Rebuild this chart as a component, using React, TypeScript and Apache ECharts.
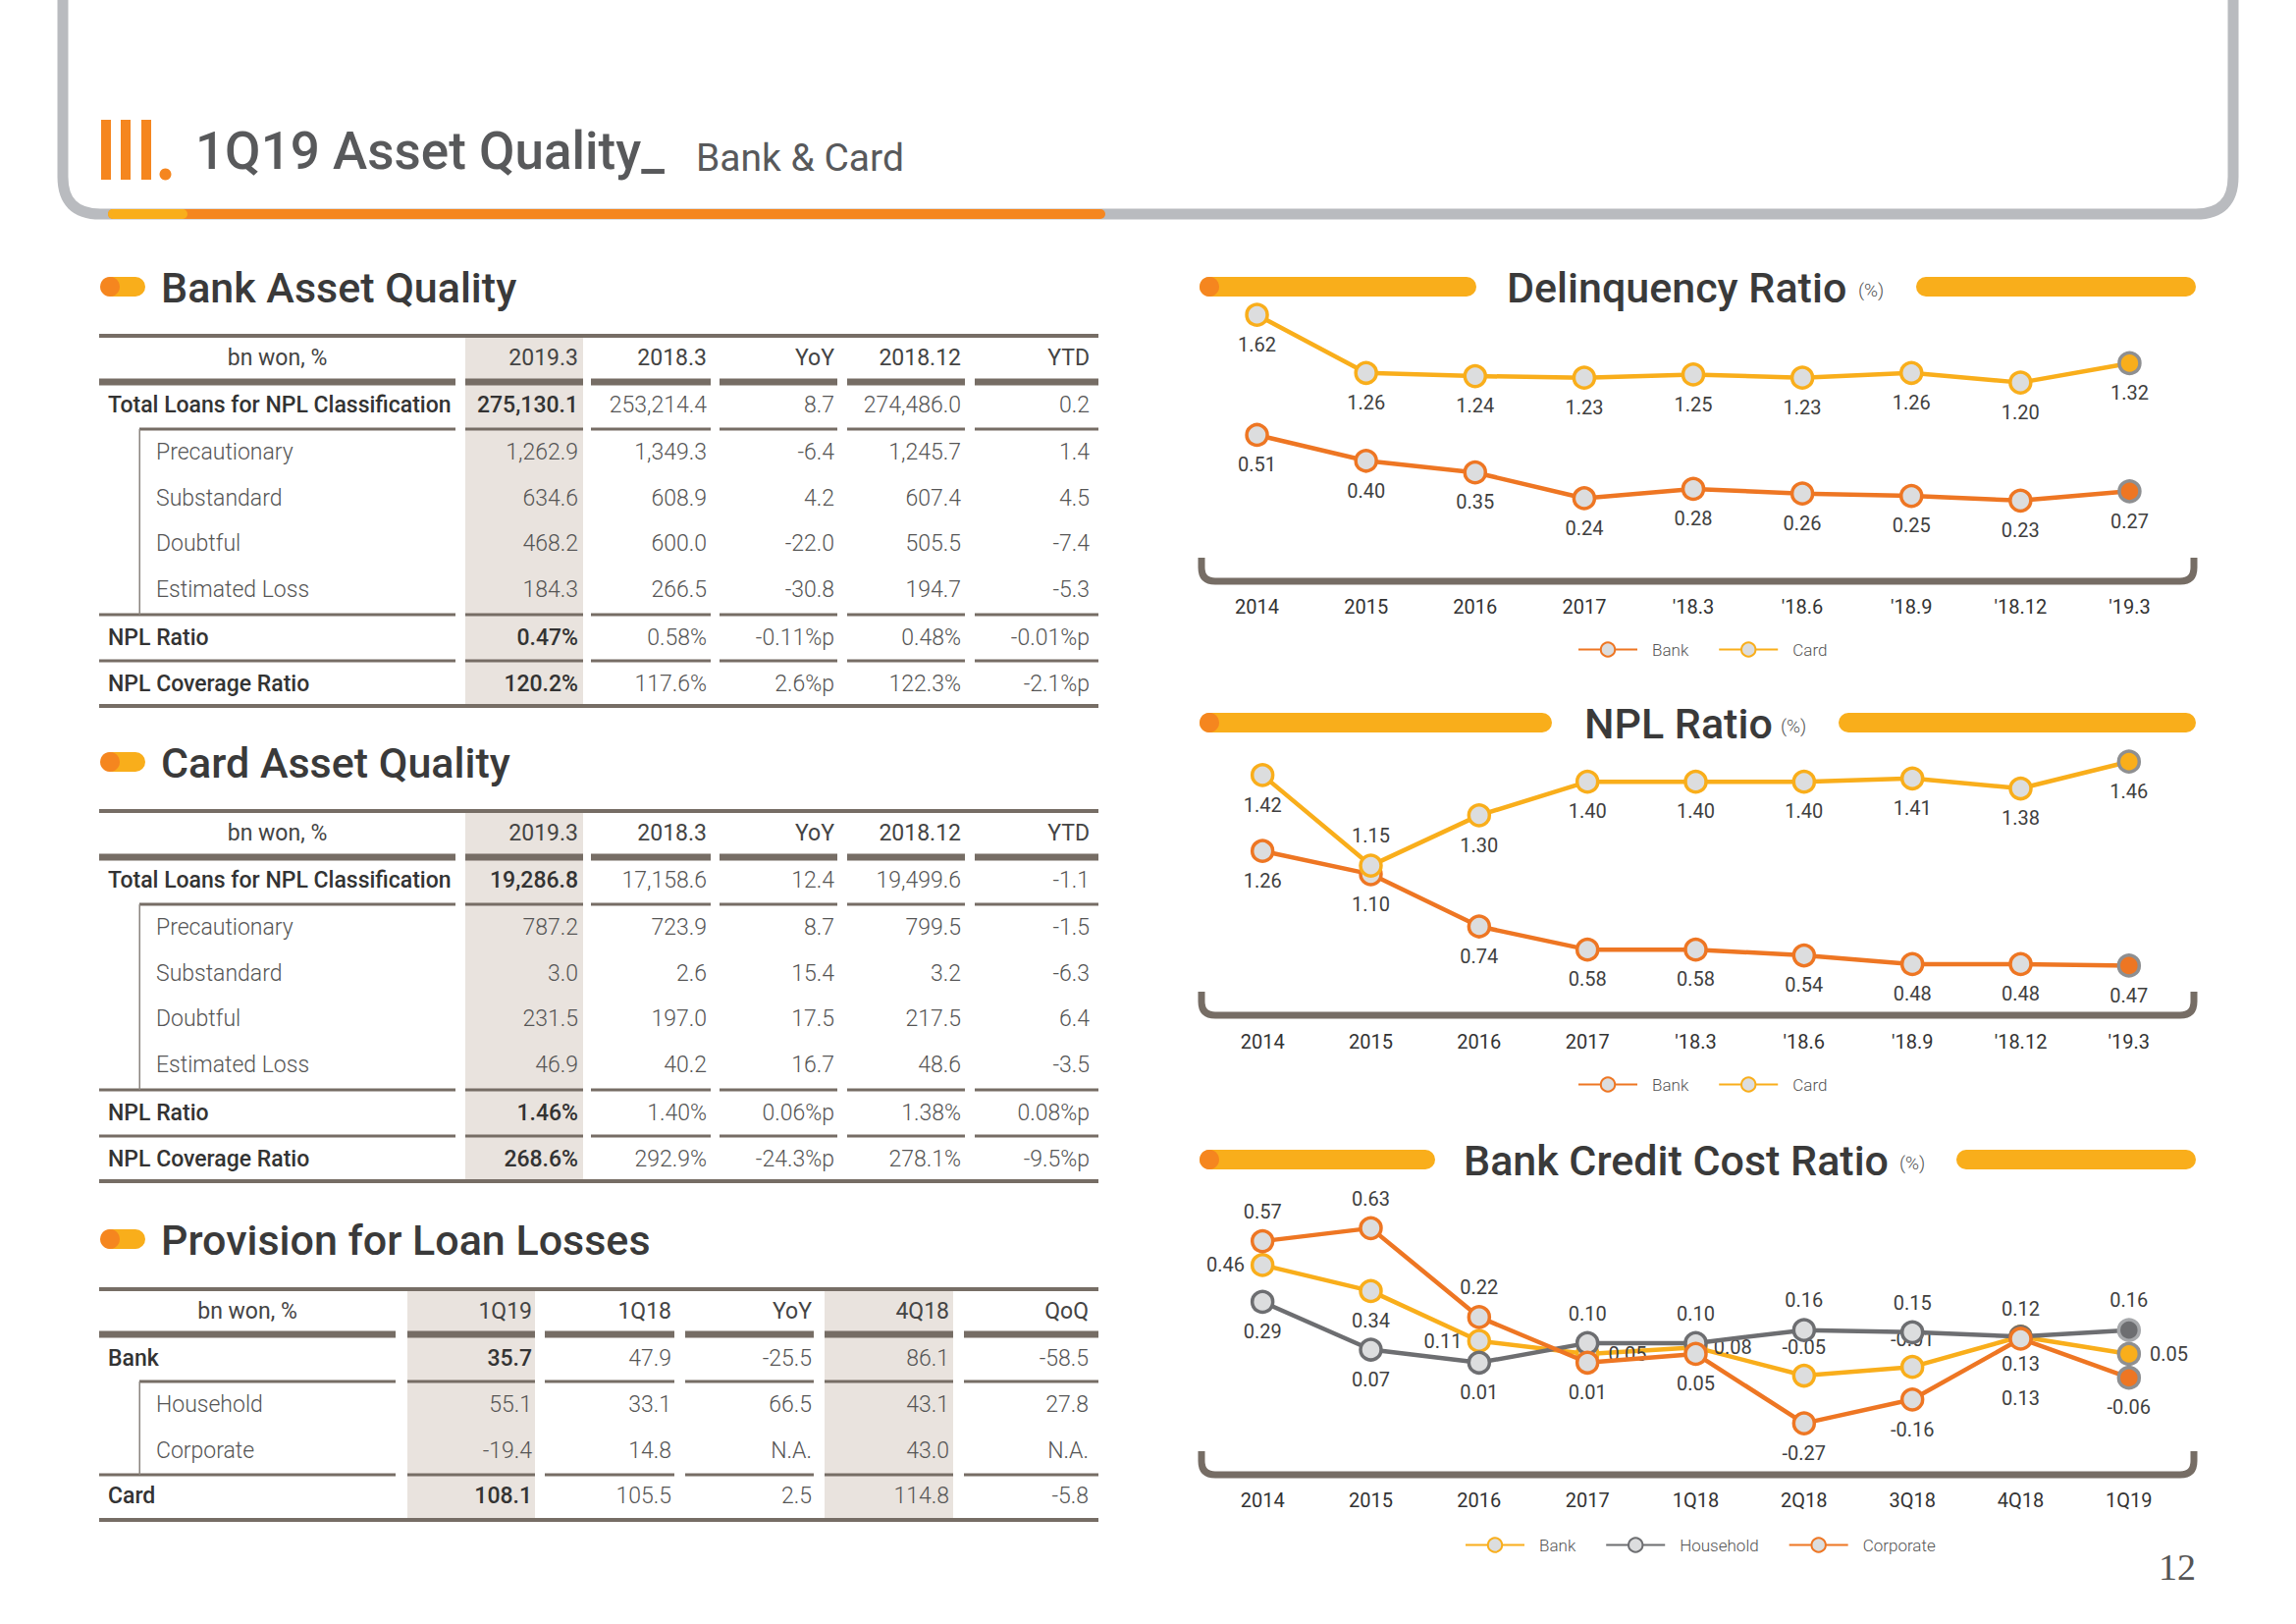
import React, { useEffect, useRef } from "react";
import * as echarts from "echarts";

// ---------------- data ----------------
const assetHeaderBank = ["2019.3", "2018.3", "YoY", "2018.12", "YTD"];
const assetHeaderCard = ["2019.3", "2018.3", "YoY", "2018.12", "YTD"];
const assetRowLabels = [
  "Total Loans for NPL Classification",
  "Precautionary",
  "Substandard",
  "Doubtful",
  "Estimated Loss",
  "NPL Ratio",
  "NPL Coverage Ratio",
];

const bankTotalLoans = ["275,130.1", "253,214.4", "8.7", "274,486.0", "0.2"];
const bankPrecautionary = ["1,262.9", "1,349.3", "-6.4", "1,245.7", "1.4"];
const bankSubstandard = ["634.6", "608.9", "4.2", "607.4", "4.5"];
const bankDoubtful = ["468.2", "600.0", "-22.0", "505.5", "-7.4"];
const bankEstimatedLoss = ["184.3", "266.5", "-30.8", "194.7", "-5.3"];
const bankNplRatio = ["0.47%", "0.58%", "-0.11%p", "0.48%", "-0.01%p"];
const bankNplCoverage = ["120.2%", "117.6%", "2.6%p", "122.3%", "-2.1%p"];

const cardTotalLoans = ["19,286.8", "17,158.6", "12.4", "19,499.6", "-1.1"];
const cardPrecautionary = ["787.2", "723.9", "8.7", "799.5", "-1.5"];
const cardSubstandard = ["3.0", "2.6", "15.4", "3.2", "-6.3"];
const cardDoubtful = ["231.5", "197.0", "17.5", "217.5", "6.4"];
const cardEstimatedLoss = ["46.9", "40.2", "16.7", "48.6", "-3.5"];
const cardNplRatio = ["1.46%", "1.40%", "0.06%p", "1.38%", "0.08%p"];
const cardNplCoverage = ["268.6%", "292.9%", "-24.3%p", "278.1%", "-9.5%p"];

const provisionHeader = ["1Q19", "1Q18", "YoY", "4Q18", "QoQ"];
const provisionRowLabels = ["Bank", "Household", "Corporate", "Card"];
const provisionBank = ["35.7", "47.9", "-25.5", "86.1", "-58.5"];
const provisionHousehold = ["55.1", "33.1", "66.5", "43.1", "27.8"];
const provisionCorporate = ["-19.4", "14.8", "N.A.", "43.0", "N.A."];
const provisionCard = ["108.1", "105.5", "2.5", "114.8", "-5.8"];

const ratioCategories = ["2014", "2015", "2016", "2017", "'18.3", "'18.6", "'18.9", "'18.12", "'19.3"];
const delinquencyBank = [0.51, 0.4, 0.35, 0.24, 0.28, 0.26, 0.25, 0.23, 0.27];
const delinquencyCard = [1.62, 1.26, 1.24, 1.23, 1.25, 1.23, 1.26, 1.2, 1.32];
const nplBank = [1.26, 1.1, 0.74, 0.58, 0.58, 0.54, 0.48, 0.48, 0.47];
const nplCard = [1.42, 1.15, 1.3, 1.4, 1.4, 1.4, 1.41, 1.38, 1.46];

const costCategories = ["2014", "2015", "2016", "2017", "1Q18", "2Q18", "3Q18", "4Q18", "1Q19"];
const costBank = [0.46, 0.34, 0.11, 0.05, 0.08, -0.05, -0.01, 0.13, 0.05];
const costHousehold = [0.29, 0.07, 0.01, 0.1, 0.1, 0.16, 0.15, 0.13, 0.16];
const costCorporate = [0.57, 0.63, 0.22, 0.01, 0.05, -0.27, -0.16, 0.12, -0.06];

// label placement (style, not data)
const allBottom = ["bottom", "bottom", "bottom", "bottom", "bottom", "bottom", "bottom", "bottom", "bottom"];
const nplCardPos = ["bottom", "top", "bottom", "bottom", "bottom", "bottom", "bottom", "bottom", "bottom"];
const costBankPos = ["left", "bottom", "left", "right", "right", "top", "top", "bottom", "right"];
const costBankDist = [6, 8, 5, 9, 6, 7, 6, 5, 9];
const costHouseholdPos = ["bottom", "bottom", "bottom", "top", "top", "top", "top", "bottom", "top"];
const costHouseholdDist = [8, 8, 8, 8, 8, 8, 8, 40, 8];
const costCorporatePos = ["top", "top", "top", "bottom", "bottom", "bottom", "bottom", "top", "bottom"];

// ---------------- style ----------------
const FONT = "Roboto, 'Noto Sans', sans-serif";
const ORANGE = "#EE7623";
const BAR_ORANGE = "#F5861F";
const YELLOW = "#F9AE1B";
const GREY = "#6D6E71";
const RULE = "#766D65";
const SHADE = "#E9E3DE";
const MARK_FILL = "#DCDDDE";
const LAST_BORDER = "#8E8F91";

const frameD =
  "M 64 -10 L 64 180 Q 64 218 102 218 L 2237 218 Q 2275 218 2275 180 L 2275 -10";
const bracketD = "M 0 0 L 0 10 Q 0 24 14 24 L 997 24 Q 1011 24 1011 10 L 1011 0";
echarts.graphic.registerShape("frameLine", echarts.graphic.extendPath(frameD, {}));
echarts.graphic.registerShape("bracketLine", echarts.graphic.extendPath(bracketD, {}));

function txt(text: string, x: number, y: number, o: any = {}) {
  const align = o.align || "left";
  const va = o.va || "middle";
  return {
    type: "text",
    x,
    y,
    silent: true,
    z: 10,
    style: {
      text,
      fill: o.color || "#555",
      fontSize: o.size || 23,
      fontFamily: o.family || FONT,
      fontWeight: o.weight || 400,
      align,
      textAlign: align,
      verticalAlign: va,
      textVerticalAlign: va,
    },
  };
}

function rect(x: number, y: number, w: number, h: number, fill: string, r: number = 0, z = 5) {
  return { type: "rect", silent: true, z, shape: { x, y, width: w, height: h, r }, style: { fill } };
}

const ASSET_SEGS = [[101, 464], [474, 594], [602, 724], [733, 853], [863, 983], [993, 1119]];
const ASSET_RIGHT = [589, 720, 850, 979, 1110];
const PROV_SEGS = [[101, 403], [415, 545], [555, 687], [698, 829], [840, 971], [982, 1119]];
const PROV_RIGHT = [542, 684, 827, 967, 1109];

function buildTable(
  T: number,
  segs: number[][],
  right: number[],
  shaded: number[],
  header: string[],
  labels: string[],
  values: string[][],
  main: boolean[],
  rowDy: number[],
  headerDy: number,
  underDy: number,
  rules: { dy: number; indent: boolean }[],
  bottomDy: number
) {
  const els: any[] = [];
  const L = segs[0][0];
  const R = segs[segs.length - 1][1];
  shaded.forEach((j) => {
    const s = segs[j + 1];
    els.push(rect(s[0], T, s[1] - s[0], bottomDy, SHADE, 0, 2));
  });
  els.push(rect(L, T - 2, R - L, 4, RULE));
  els.push(txt("bn won, %", (segs[0][0] + segs[0][1]) / 2, T + headerDy, { align: "center", color: "#444" }));
  header.forEach((h, j) => els.push(txt(h, right[j], T + headerDy, { align: "right", color: "#444" })));
  segs.forEach((s) => els.push(rect(s[0], T + underDy - 3.5, s[1] - s[0], 7, RULE)));
  labels.forEach((lab, i) => {
    const y = T + rowDy[i];
    els.push(
      txt(lab, main[i] ? 110 : 159, y, {
        color: main[i] ? "#333" : "#555",
        weight: main[i] ? 500 : 300,
      })
    );
    values[i].forEach((v, j) => {
      const bold = main[i] && j === 0;
      els.push(
        txt(v, right[j], y, {
          align: "right",
          color: bold ? "#333" : "#555",
          weight: bold ? 500 : 300,
        })
      );
    });
  });
  rules.forEach((r) => {
    segs.forEach((s, k) => {
      const x0 = k === 0 && r.indent ? 142 : s[0];
      els.push(rect(x0, T + r.dy - 1.5, s[1] - x0, 3, RULE));
    });
  });
  const ind = rules.filter((r) => r.indent)[0];
  const nxt = rules.filter((r) => !r.indent)[0];
  els.push(rect(141.5, T + ind.dy, 1.5, nxt.dy - ind.dy, "#8A847E"));
  els.push(rect(L, T + bottomDy - 2, R - L, 4, RULE));
  return els;
}

function sectionHeader(text: string, y: number) {
  return [
    rect(104, y - 10, 44, 20, YELLOW, 10),
    { type: "circle", silent: true, z: 6, shape: { cx: 112, cy: y, r: 10 }, style: { fill: BAR_ORANGE } },
    txt(text, 164, y + 1, { size: 43, weight: 500, color: "#3A3A3A" }),
  ];
}

function chartTitle(
  title: string,
  y: number,
  leftEnd: number,
  titleX: number,
  pctX: number,
  rightStart: number,
  bracketY: number
) {
  return [
    rect(1222, y - 10, leftEnd - 1222, 20, YELLOW, 10),
    { type: "circle", silent: true, z: 6, shape: { cx: 1232, cy: y, r: 10 }, style: { fill: BAR_ORANGE } },
    rect(rightStart, y - 10, 2237 - rightStart, 20, YELLOW, 10),
    txt(title, titleX, y + 1, { size: 43, weight: 500, color: "#3A3A3A" }),
    txt("(%)", pctX, y + 3, { size: 19, color: "#555", weight: 300 }),
    {
      type: "bracketLine",
      x: 1224,
      y: bracketY,
      silent: true,
      z: 3,
      style: { fill: "none", stroke: RULE, lineWidth: 7 },
    },
  ];
}

function lineSeries(
  name: string,
  values: number[],
  color: string,
  idx: number,
  yIdx: number,
  pos: string[],
  dist: number[] | null,
  lastFill: string,
  lastBorder: string,
  z: number
) {
  return {
    type: "line",
    name,
    xAxisIndex: idx,
    yAxisIndex: yIdx,
    z,
    symbol: "circle",
    symbolSize: 21,
    lineStyle: { color, width: 4.5 },
    itemStyle: { color: MARK_FILL, borderColor: color, borderWidth: 3.5 },
    label: {
      show: true,
      fontSize: 20,
      color: "#3F3F3F",
      fontFamily: FONT,
      formatter: (p: any) => Number(p.value).toFixed(2),
    },
    emphasis: { disabled: true },
    data: values.map((v, i) => ({
      value: v,
      label: { position: pos[i], distance: dist ? dist[i] : 8 },
      itemStyle: i === values.length - 1 ? { color: lastFill, borderColor: lastBorder } : undefined,
    })),
  };
}

function legend(names: string[], left: number, top: number) {
  return {
    data: names,
    left,
    top,
    orient: "horizontal",
    itemWidth: 60,
    itemHeight: 18,
    itemGap: 30,
    selectedMode: false,
    formatter: (n: string) => n.split("|")[0],
    textStyle: { fontSize: 17, color: "#555", fontFamily: FONT, fontWeight: 300, padding: [0, 0, 0, 10] },
  };
}

export default function App() {
  const ref = useRef<HTMLDivElement>(null);
  useEffect(() => {
    if (!ref.current) return;
    const chart = echarts.init(ref.current, null, { renderer: "svg" });

    const assetMain = [true, false, false, false, false, true, true];
    const assetRowDy = [70, 118, 165, 211, 258, 307, 354];
    const assetRules = [
      { dy: 95, indent: true },
      { dy: 284, indent: false },
      { dy: 331, indent: false },
    ];
    const bankTable = buildTable(
      342, ASSET_SEGS, ASSET_RIGHT, [0], assetHeaderBank, assetRowLabels,
      [bankTotalLoans, bankPrecautionary, bankSubstandard, bankDoubtful, bankEstimatedLoss, bankNplRatio, bankNplCoverage],
      assetMain, assetRowDy, 22, 47, assetRules, 377
    );
    const cardTable = buildTable(
      826, ASSET_SEGS, ASSET_RIGHT, [0], assetHeaderCard, assetRowLabels,
      [cardTotalLoans, cardPrecautionary, cardSubstandard, cardDoubtful, cardEstimatedLoss, cardNplRatio, cardNplCoverage],
      assetMain, assetRowDy, 22, 47, assetRules, 377
    );
    const provTable = buildTable(
      1313, PROV_SEGS, PROV_RIGHT, [0, 3], provisionHeader, provisionRowLabels,
      [provisionBank, provisionHousehold, provisionCorporate, provisionCard],
      [true, false, false, true], [70, 117, 164, 210], 22, 46,
      [{ dy: 94, indent: true }, { dy: 189, indent: false }], 235
    );

    const graphics: any[] = [
      { type: "frameLine", x: 0, y: 0, silent: true, z: 1, style: { fill: "none", stroke: "#B9BBBF", lineWidth: 11 } },
      { type: "line", silent: true, z: 2, shape: { x1: 115, y1: 218, x2: 1121, y2: 218 }, style: { stroke: BAR_ORANGE, lineWidth: 10, lineCap: "round" } },
      { type: "line", silent: true, z: 3, shape: { x1: 115, y1: 218, x2: 186, y2: 218 }, style: { stroke: YELLOW, lineWidth: 10, lineCap: "round" } },
      rect(103, 122, 10, 61, BAR_ORANGE),
      rect(123, 122, 10, 61, BAR_ORANGE),
      rect(144, 122, 10, 61, BAR_ORANGE),
      { type: "circle", silent: true, z: 5, shape: { cx: 168.5, cy: 177.5, r: 6 }, style: { fill: BAR_ORANGE } },
      txt("1Q19 Asset Quality_", 199, 154, { size: 53, weight: 500, color: "#58595B" }),
      txt("Bank & Card", 709, 161, { size: 39, weight: 400, color: "#58595B" }),
      ...sectionHeader("Bank Asset Quality", 292),
      ...sectionHeader("Card Asset Quality", 776),
      ...sectionHeader("Provision for Loan Losses", 1262),
      ...bankTable,
      ...cardTable,
      ...provTable,
      ...chartTitle("Delinquency Ratio", 292, 1504, 1535, 1893, 1952, 568),
      ...chartTitle("NPL Ratio", 736, 1581, 1614, 1814, 1873, 1010),
      ...chartTitle("Bank Credit Cost Ratio", 1181, 1462, 1491, 1935, 1993, 1478),
      txt("12", 2218, 1596, { size: 38, color: "#555", family: "'Liberation Serif', serif", align: "center" }),
    ];

    const margins = [38, 51, 38];
    const option: any = {
      animation: false,
      backgroundColor: "#ffffff",
      grid: [
        { left: 1225, width: 1000, top: 300, height: 270 },
        { left: 1231, width: 993, top: 740, height: 260 },
        { left: 1231, width: 993, top: 1200, height: 280 },
      ],
      xAxis: [0, 1, 2].map((i) => ({
        type: "category",
        gridIndex: i,
        data: i < 2 ? ratioCategories : costCategories,
        boundaryGap: true,
        axisLine: { show: false },
        axisTick: { show: false },
        splitLine: { show: false },
        axisLabel: { interval: 0, margin: margins[i], fontSize: 20, color: "#333", fontFamily: FONT },
      })),
      yAxis: [
        { gridIndex: 0, min: 0.101, max: 1.746 },
        { gridIndex: 0, min: -0.022, max: 1.109 },
        { gridIndex: 1, min: 0.8034, max: 1.5645 },
        { gridIndex: 1, min: 0.3575, max: 2.118 },
        { gridIndex: 2, min: -0.4077, max: 0.8604 },
      ].map((a) => ({ type: "value", show: false, splitLine: { show: false }, ...a })),
      legend: [
        legend(["Bank|dq", "Card|dq"], 1602, 648),
        legend(["Bank|npl", "Card|npl"], 1602, 1091),
        legend(["Bank|cc", "Household|cc", "Corporate|cc"], 1487, 1560),
      ],
      series: [
        lineSeries("Card|dq", delinquencyCard, YELLOW, 0, 0, allBottom, null, YELLOW, LAST_BORDER, 3),
        lineSeries("Bank|dq", delinquencyBank, ORANGE, 0, 1, allBottom, null, ORANGE, LAST_BORDER, 3),
        lineSeries("Bank|npl", nplBank, ORANGE, 1, 3, allBottom, null, ORANGE, LAST_BORDER, 3),
        lineSeries("Card|npl", nplCard, YELLOW, 1, 2, nplCardPos, null, YELLOW, LAST_BORDER, 4),
        lineSeries("Bank|cc", costBank, YELLOW, 2, 4, costBankPos, costBankDist, YELLOW, LAST_BORDER, 3),
        lineSeries("Household|cc", costHousehold, GREY, 2, 4, costHouseholdPos, costHouseholdDist, GREY, "#A7A9AC", 4),
        lineSeries("Corporate|cc", costCorporate, ORANGE, 2, 4, costCorporatePos, null, ORANGE, LAST_BORDER, 5),
      ],
      graphic: { elements: graphics },
    };
    chart.setOption(option);
    return () => chart.dispose();
  }, []);

  return (
    <div
      ref={ref}
      style={{ position: "fixed", left: 0, top: 0, width: 2339, height: 1654, background: "#fff" }}
    />
  );
}
